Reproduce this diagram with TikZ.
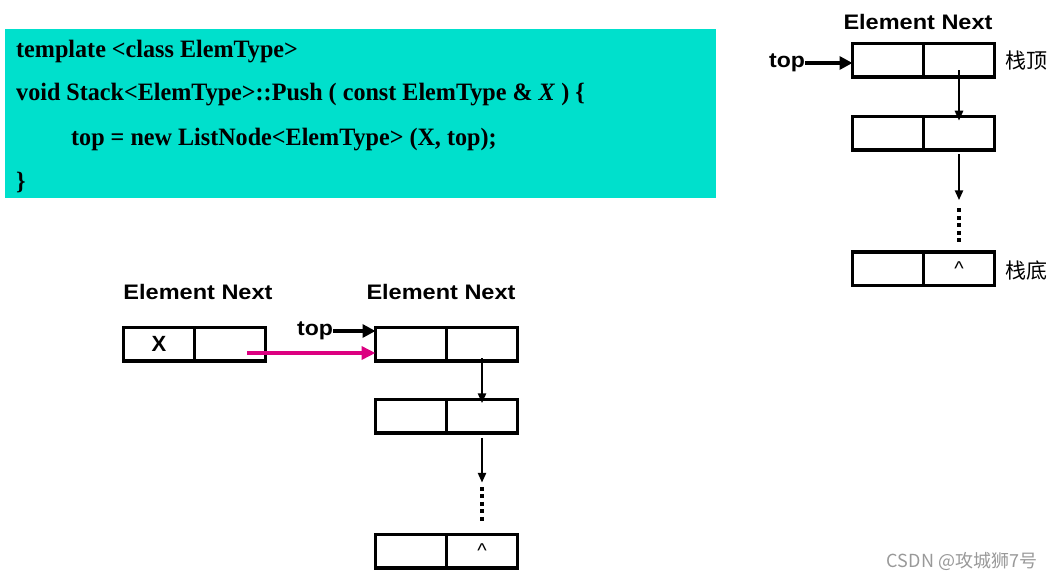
\documentclass[tikz,border=0pt]{standalone}
\usepackage{fontspec}
\setmainfont{Liberation Serif}
\newfontfamily\arialfont{Liberation Sans}
\newfontfamily\cjk{Noto Sans CJK SC}
\usepackage{xcolor}
\usepackage{tikz}
\usetikzlibrary{arrows.meta,positioning,calc}

\definecolor{codebg}{RGB}{0,224,204}
\definecolor{pushpink}{RGB}{220,0,128}

\begin{document}
\begin{tikzpicture}[
  x=1pt, y=-1pt,
  codeline/.style={anchor=west, inner sep=0pt, xscale=0.965, font=\fontsize{25}{28}\selectfont\bfseries},
  head/.style={inner sep=0pt, xscale=1.12, font=\arialfont\fontsize{21}{24}\selectfont\bfseries},
  cell/.style={draw, line width=3.5pt, outer sep=0pt, inner sep=0pt, minimum width=71pt, minimum height=33.5pt,
    font=\arialfont\fontsize{22}{24}\selectfont\bfseries},
  nilmark/.style={font=\arialfont\fontsize{20}{22}\selectfont},
  cjklabel/.style={anchor=west, inner sep=0pt, font=\cjk\fontsize{21}{24}\selectfont},
  link/.style={-{Triangle[length=10pt,width=8pt]}, line width=2.8pt},
  toparrow/.style={-{Triangle[length=13pt,width=13pt]}, line width=4pt},
  pusharrow/.style={-{Triangle[length=14pt,width=13pt]}, line width=4.2pt, pushpink},
  dots/.style={line width=4pt, dash pattern=on 4pt off 3.5pt}
]
\useasboundingbox (0,0) rectangle (1056,580);

% Code block
\fill[codebg] (5,29) rectangle (716,198);
\node[codeline] (c1) at (16,51.5) {template <class ElemType>};
\node[codeline] (c2) at (16,94.5) {void Stack<ElemType>::Push ( const ElemType \& \textit{X} ) \{};
\node[codeline] (c3) at (71,139.5) {top = new ListNode<ElemType> (X, top);};
\node[codeline] (c4) at (16,182.5) {\}};

% Stack before push (top right)
\node[head] (hR) at (918,22) {Element Next};
\node[cell] (s1d) at (888,60.5) {};
\node[cell, right=0pt of s1d] (s1n) {};
\node[cell] (s2d) at (888,133.5) {};
\node[cell, right=0pt of s2d] (s2n) {};
\node[cell] (s3d) at (888,268.5) {};
\node[cell, right=0pt of s3d, nilmark] (s3n) {\textasciicircum};
\node[cjklabel] (lTop) at (1005,61) {栈顶};
\node[cjklabel] (lBot) at (1005,271) {栈底};

\node[head, xscale=0.98] (topR) at (787,63) {top};
\draw[toparrow] (topR.east) -- (topR.east -| s1d.west);

\draw[link] ($(s1n.center)+(0,10)$) -- ($(s2n.north)+(0,4)$);
\coordinate (dR) at ($(s2n.south)+(0,50)$);
\draw[link] ($(s2n.south)+(0,4)$) -- (dR);
\draw[dots] ($(dR)+(0,8)$) -- ($(s3n.north)+(0,-10)$);

% New node X
\node[head] (hX) at (198,292) {Element Next};
\node[cell] (xd) at (159,344) {X};
\node[cell, right=0pt of xd] (xn) {};

% Stack after push (bottom)
\node[head] (hB) at (441,292) {Element Next};
\node[cell] (b1d) at (411,344) {};
\node[cell, right=0pt of b1d] (b1n) {};
\node[cell] (b2d) at (411,416) {};
\node[cell, right=0pt of b2d] (b2n) {};
\node[cell] (b3d) at (411,551) {};
\node[cell, right=0pt of b3d, nilmark] (b3n) {\textasciicircum};

\node[head, xscale=0.98] (topB) at (315,331) {top};
\draw[toparrow] (topB.east) -- (topB.east -| b1d.west);
\draw[pusharrow] ($(xn.center)+(17,9)$) -- ($(b1d.west)+(0,9)$);

\draw[link] ($(b1n.center)+(0,14)$) -- ($(b2n.north)+(0,4)$);
\coordinate (dB) at ($(b2n.south)+(0,50)$);
\draw[link] ($(b2n.south)+(0,5)$) -- (dB);
\draw[dots] ($(dB)+(0,4)$) -- ($(b3n.north)+(0,-11)$);

% Watermark
\node[inner sep=0pt, text=black!40, font=\cjk\fontsize{18}{20}\selectfont] (wm) at (962,561) {CSDN @攻城狮7号};
\end{tikzpicture}
\end{document}
